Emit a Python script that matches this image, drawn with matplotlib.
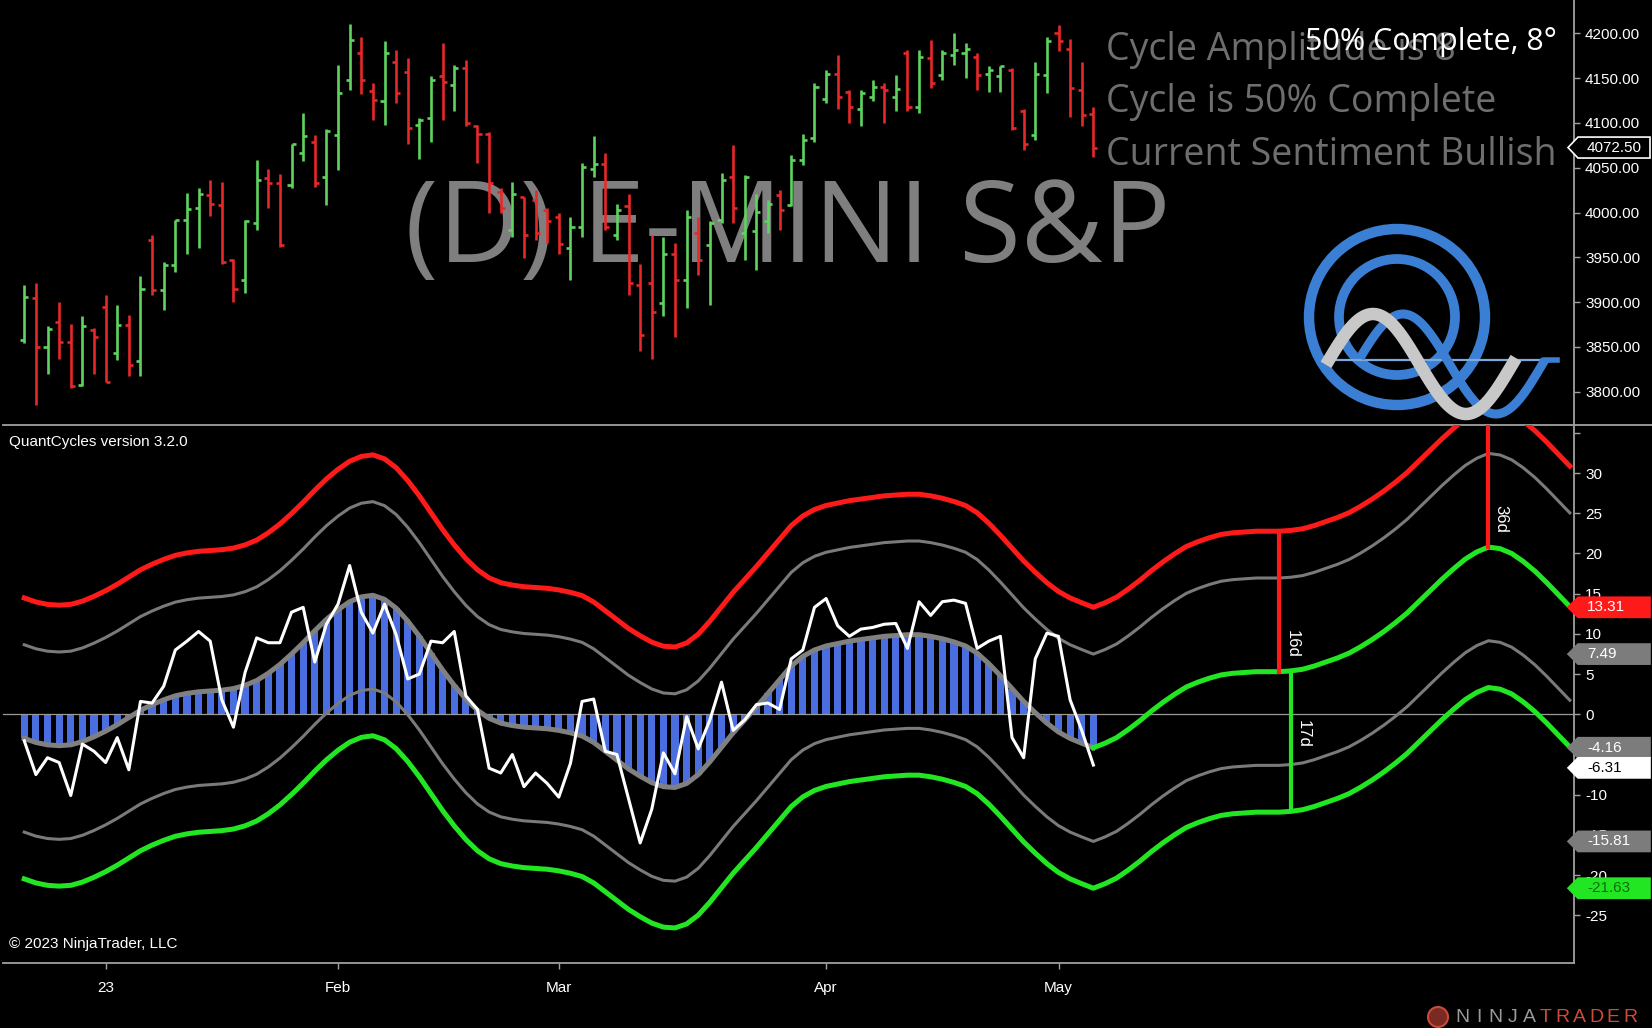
import numpy as np
import matplotlib
matplotlib.use("Agg")
import matplotlib.pyplot as plt
from matplotlib import transforms
from matplotlib.patches import Polygon, Circle

# daily E-mini S&P bars, Dec 21 2022 .. May 4 2023 (one value per bar)
opens = [3858, 3905, 3850, 3878, 3856, 3808, 3869, 3895, 3843, 3874,
         3834, 3969, 3914, 3941, 3992, 4005, 4020, 4008, 3947, 3925,
         3988, 4038, 4033, 4031, 4066, 4079, 4040, 4087, 4148, 4178,
         4136, 4124, 4168, 4157, 4098, 4105, 4152, 4142, 4161, 4096,
         4088, 4023, 3981, 4017, 4014, 4003, 3995, 3960, 3984, 4048,
         4054, 3975, 4007, 3919, 3921, 3899, 3954, 3925, 3977, 3964,
         3992, 4040, 3977, 3979, 3990, 4020, 4008, 4059, 4083, 4127,
         4155, 4135, 4116, 4129, 4140, 4129, 4178, 4118, 4172, 4153,
         4176, 4178, 4174, 4155, 4152, 4159, 4113, 4087, 4153, 4200,
         4183, 4137, 4110]
highs = [3919, 3921, 3873, 3900, 3876, 3884, 3871, 3908, 3897, 3886,
         3929, 3975, 3945, 3992, 4022, 4027, 4036, 4034, 3948, 3992,
         4059, 4049, 4043, 4077, 4111, 4087, 4093, 4165, 4210, 4196,
         4144, 4191, 4181, 4173, 4105, 4152, 4189, 4165, 4170, 4098,
         4090, 4027, 4034, 4017, 4025, 4005, 3999, 3995, 4055, 4085,
         4066, 4010, 4021, 3943, 3975, 3973, 3966, 4003, 3995, 3991,
         4044, 4075, 4042, 4021, 4014, 4025, 4064, 4088, 4144, 4159,
         4176, 4137, 4137, 4148, 4144, 4153, 4181, 4181, 4193, 4181,
         4200, 4189, 4178, 4163, 4163, 4161, 4116, 4168, 4196, 4209,
         4194, 4168, 4118]
lows = [3854, 3785, 3820, 3837, 3804, 3806, 3820, 3811, 3835, 3817,
        3817, 3908, 3891, 3934, 3954, 3960, 3996, 3943, 3900, 3910,
        3980, 4005, 3962, 4027, 4057, 4029, 4008, 4047, 4137, 4132,
        4103, 4098, 4122, 4077, 4060, 4079, 4103, 4113, 4096, 4055,
        3999, 3999, 3973, 3949, 3969, 3966, 3954, 3925, 3973, 4040,
        3980, 3969, 3908, 3845, 3837, 3884, 3861, 3893, 3930, 3897,
        3988, 3988, 3947, 3936, 3977, 3980, 4007, 4053, 4079, 4122,
        4116, 4100, 4096, 4124, 4100, 4113, 4113, 4111, 4139, 4148,
        4165, 4150, 4137, 4135, 4135, 4092, 4070, 4081, 4133, 4180,
        4107, 4096, 4062]
closes = [3906, 3850, 3870, 3856, 3806, 3873, 3861, 3811, 3874, 3830,
          3915, 3914, 3941, 3992, 4004, 4021, 4010, 3945, 3915, 3990,
          4036, 4033, 3964, 4076, 4085, 4033, 4091, 4133, 4193, 4148,
          4126, 4178, 4133, 4094, 4103, 4148, 4146, 4161, 4100, 4088,
          4033, 4005, 4021, 3975, 3977, 3990, 3965, 3984, 4051, 4054,
          3984, 4003, 3921, 3863, 3889, 3954, 3925, 3995, 3947, 3988,
          4036, 4005, 4040, 4001, 4010, 4003, 4059, 4081, 4140, 4155,
          4129, 4118, 4133, 4140, 4137, 4138, 4118, 4174, 4144, 4178,
          4181, 4183, 4153, 4159, 4163, 4094, 4077, 4155, 4191, 4191,
          4139, 4109, 4072.5]

# QuantCycles: smoothed cycle (grey line / histogram) and raw oscillator (white)
cycle = [-3.0, -3.5, -3.8, -3.9, -3.8, -3.4, -2.8, -2.1, -1.3, -0.4,
         0.5, 1.2, 1.8, 2.3, 2.6, 2.8, 2.9, 3.0, 3.2, 3.6,
         4.2, 5.1, 6.2, 7.5, 8.9, 10.4, 11.8, 13.0, 14.0, 14.6,
         14.8, 14.3, 13.2, 11.6, 9.7, 7.6, 5.5, 3.6, 1.9, 0.5,
         -0.5, -1.1, -1.4, -1.6, -1.7, -1.8, -2.0, -2.3, -2.7, -3.5,
         -4.6, -5.7, -6.8, -7.7, -8.5, -9.0, -9.1, -8.6, -7.5, -5.9,
         -4.1, -2.3, -0.7, 0.9, 2.6, 4.3, 6.0, 7.2, 8.0, 8.5,
         8.8, 9.1, 9.3, 9.5, 9.7, 9.8, 9.9, 9.9, 9.7, 9.4,
         9.0, 8.5, 7.6, 6.3, 4.8, 3.2, 1.6, 0.2, -1.1, -2.2,
         -3.0, -3.6, -4.16]
oscillator = [-3.3, -7.5, -5.4, -6.0, -10.1, -3.7, -4.6, -6.0, -2.9, -6.9,
              1.6, 1.4, 3.5, 8.0, 9.1, 10.3, 9.1, 1.8, -1.6, 5.2,
              9.5, 8.9, 8.9, 12.7, 13.3, 6.5, 11.2, 13.7, 18.5, 12.7,
              10.1, 13.7, 9.9, 4.4, 5.0, 9.1, 8.9, 10.3, 2.3, 0.6,
              -6.7, -7.3, -5.0, -9.0, -7.3, -8.6, -10.3, -6.1, 1.6, 1.9,
              -4.6, -5.0, -10.5, -16.0, -11.8, -4.8, -7.4, -0.3, -4.3, -0.7,
              4.0, -2.0, -0.7, 1.2, 1.4, 0.6, 6.9, 8.0, 13.3, 14.4,
              11.0, 9.7, 10.6, 10.8, 11.2, 11.3, 8.2, 14.0, 12.3, 14.0,
              14.2, 13.8, 8.2, 9.1, 9.7, -2.9, -5.4, 6.9, 10.1, 9.7,
              1.8, -2.0, -6.31]
# forward projection of the cycle, starting at the last bar
projection = [-4.16, -3.6, -2.9, -1.9, -0.8, 0.4, 1.5, 2.5, 3.4, 4.0,
              4.5, 4.9, 5.1, 5.2, 5.3, 5.3, 5.3, 5.4, 5.6, 6.0,
              6.5, 7.0, 7.6, 8.4, 9.3, 10.3, 11.4, 12.6, 14.0, 15.4,
              16.8, 18.1, 19.3, 20.2, 20.8, 20.6, 20.0, 19.0, 17.8, 16.4,
              14.9, 13.4]
# band half-widths around the cycle (from the right-hand labels)
band_outer = 17.47
band_inner = 11.65

# cycle-length markers: bar index, direction, label
markers = [(108, 'up', '16d'), (109, 'down', '17d'), (126, 'up', '36d')]

tick_idx = [7, 27, 46, 69, 89]
tick_lbl = ['23', 'Feb', 'Mar', 'Apr', 'May']
price_ticks = [3800, 3850, 3900, 3950, 4000, 4050, 4100, 4150, 4200]
osc_ticks = [-25, -20, -15, -10, -5, 0, 5, 10, 15, 20, 25, 30, 35]

opens = np.array(opens, float)
highs = np.array(highs, float)
lows = np.array(lows, float)
closes = np.array(closes, float)
cycle = np.array(cycle)
projection = np.array(projection)
n = len(closes)
bar_idx = np.arange(n)
proj_idx = np.arange(n - 1, n - 1 + len(projection))
center = np.concatenate([cycle, projection[1:]])
all_idx = np.arange(len(center))

RED = '#ff1a1a'
GREEN = '#22e622'
GREY = '#7a7a7a'
UP_BAR = '#5ed45e'
DN_BAR = '#e8282a'
AXC = '#a0a0a0'

UI = ['Liberation Sans', 'DejaVu Sans']
BIG = ['Open Sans', 'DejaVu Sans']
plt.rcParams['font.family'] = UI

W, H = 1652, 1028
fig = plt.figure(figsize=(W / 100, H / 100), dpi=100, facecolor='black')
ax1 = fig.add_axes([3 / W, 1 - 425 / H, 1571 / W, 425 / H])
ax2 = fig.add_axes([3 / W, 1 - 963 / H, 1571 / W, 538 / H])
for ax in (ax1, ax2):
    ax.set_facecolor('black')
    for s in ax.spines.values():
        s.set_color(AXC)
        s.set_linewidth(1.3)
    ax.spines['left'].set_visible(False)
    ax.yaxis.tick_right()
    ax.tick_params(axis='y', colors=AXC, labelcolor='white', labelsize=11,
                   length=4.5, width=1, pad=3.5)
ax1.spines['top'].set_visible(False)
ax1.spines['bottom'].set_visible(False)

# ---- price panel ----
cols = np.where(closes >= opens, UP_BAR, DN_BAR)
ax1.vlines(bar_idx, lows, highs, colors=cols, lw=1.9, zorder=3)
ax1.hlines(opens, bar_idx - 0.35, bar_idx, colors=cols, lw=1.9, zorder=3)
ax1.hlines(closes, bar_idx, bar_idx + 0.35, colors=cols, lw=1.9, zorder=3)

ax1.text(0.4997, 0.384, '(D) E-MINI S&P', transform=ax1.transAxes, ha='center',
         va='baseline', fontsize=81, color='#7f7f7f', family=BIG, zorder=1)
info = ['Cycle Amplitude is 8', 'Cycle is 50% Complete', 'Current Sentiment Bullish']
for k, line in enumerate(info):
    ax1.text(0.702, [0.859, 0.737, 0.612][k], line, transform=ax1.transAxes,
             ha='left', va='baseline', fontsize=27, color='#6e6e6e', family=BIG, zorder=2)
ax1.text(0.989, 0.882, '50% Complete, 8\u00b0', transform=ax1.transAxes, ha='right',
         va='baseline', fontsize=22, color='white', family=BIG, zorder=4)

ax1.set_yticks(price_ticks)
ax1.set_yticklabels([f'{v:.2f}' for v in price_ticks])
ax1.set_xticks([])

# ---- indicator panel ----
ax2.bar(bar_idx, cycle, width=0.62, color='#4a6ee0', zorder=1)
ax2.axhline(0, color='#9a9a9a', lw=0.9, zorder=1.5)
ax2.plot(all_idx, center + band_outer, color=RED, lw=3.6, zorder=3)
ax2.plot(all_idx, center + band_inner, color=GREY, lw=2.2, zorder=3)
ax2.plot(all_idx, center - band_inner, color=GREY, lw=2.2, zorder=3)
ax2.plot(all_idx, center - band_outer, color=GREEN, lw=3.6, zorder=3)
ax2.plot(bar_idx, cycle, color='#808080', lw=3.6, zorder=4)
ax2.plot(proj_idx, projection, color=GREEN, lw=3.6, zorder=4)
ax2.plot(bar_idx, oscillator, color='white', lw=2.2, zorder=5)

for i, side, lbl in markers:
    c = center[i]
    if side == 'up':
        ax2.plot([i, i], [c, c + band_outer], color=RED, lw=3, zorder=6)
        ty = c + 3.5
    else:
        ax2.plot([i, i], [c, c - band_outer], color=GREEN, lw=3, zorder=6)
        ty = c - 7.9
    ax2.text(i + 0.45, ty, lbl, rotation=270, ha='left', va='center',
             color='white', fontsize=12, zorder=7)

ax2.set_yticks(osc_ticks)
ax2.set_yticklabels(['' if v == 35 else str(v) for v in osc_ticks])
ax2.set_xticks(tick_idx)
ax2.set_xticklabels(tick_lbl)
ax2.tick_params(axis='x', colors=AXC, labelcolor='white', labelsize=11,
                length=4, width=1, pad=9)

ax2.text(0.0038, 0.968, 'QuantCycles version 3.2.0', transform=ax2.transAxes,
         ha='left', va='center', color='white', fontsize=11)
ax2.text(0.0038, 0.028, '\u00a9 2023 NinjaTrader, LLC', transform=ax2.transAxes,
         ha='left', va='baseline', color='white', fontsize=11)


# ---- last-value tags on the right axis ----
def tag(ax, y, txt, face, fg, half, edge=None):
    tr = transforms.blended_transform_factory(ax.transAxes, ax.transData)
    x0, x1, x2 = (1568 - 3) / 1571, (1578 - 3) / 1571, (1650 - 3) / 1571
    ax.add_patch(Polygon([(x0, y), (x1, y + half), (x2, y + half), (x2, y - half),
                          (x1, y - half)], closed=True, transform=tr, facecolor=face,
                         edgecolor=edge or face, lw=1.2, clip_on=False, zorder=10))
    ax.text((1587 - 3) / 1571, y, txt, transform=tr, color=fg, fontsize=11,
            ha='left', va='center', clip_on=False, zorder=11)


last = n - 1
tags = [(center[last] + band_outer, RED, 'white'),
        (center[last] + band_inner, '#7c7c7c', 'white'),
        (cycle[last], '#7c7c7c', 'white'),
        (oscillator[last], 'white', 'black'),
        (center[last] - band_inner, '#7c7c7c', 'white'),
        (center[last] - band_outer, GREEN, '#0c6e0c')]
half = 1.25
prev = None
for v, face, fg in sorted(tags, key=lambda t: -t[0]):
    pos = v if prev is None else min(v, prev - 2 * half)
    tag(ax2, pos, f'{v:.2f}', face, fg, half)
    prev = pos
tag(ax1, closes[-1], f'{closes[-1]:.2f}', 'black', 'white', 11.7, edge='white')

for ax in (ax1, ax2):
    ax.set_xlim(-1.83, 133.36)
ax1.set_ylim(3762.8, 4237.2)
ax2.set_ylim(-30.93, 35.98)

# ---- overlay for logos (pixel coordinates, y down) ----
ov = fig.add_axes([0, 0, 1, 1], zorder=5)
ov.set_xlim(0, W)
ov.set_ylim(H, 0)
ov.axis('off')
ov.patch.set_visible(False)
ov.plot([1574, W], [425, 425], color=AXC, lw=1.3)

QBLUE = '#3b7fd4'
ov.add_patch(Circle((1397, 317), 88, fill=False, lw=7.5, edgecolor=QBLUE))
ov.add_patch(Circle((1397, 317), 58, fill=False, lw=7, edgecolor=QBLUE))
ov.plot([1325, 1557], [360, 360], color='#7fa8dc', lw=1.6)
bx = np.linspace(1360, 1545, 120)
ov.plot(bx, 364 - 50 * np.cos(np.pi * (bx - 1403) / 93), color=QBLUE, lw=6.5,
        solid_capstyle='butt')
ov.plot([1545, 1557], [360, 360], color=QBLUE, lw=4)
wx = np.linspace(1326, 1516, 120)
ov.plot(wx, 364 - 50 * np.cos(np.pi * (wx - 1373) / 93), color='#c8c8c8', lw=9,
        solid_capstyle='butt')

ov.add_patch(Circle((1438, 1017), 10, facecolor='#7a2a20', edgecolor='#c84a3a', lw=1.5))
letters = 'NINJATRADER'
for k, ch in enumerate(letters):
    ov.text(1462 + k * 16.8, 1017, ch, ha='center', va='center', fontsize=14,
            color='#9a9a9a' if k < 5 else '#d04a3a')

fig.savefig('out.png', dpi=100, facecolor='black')
